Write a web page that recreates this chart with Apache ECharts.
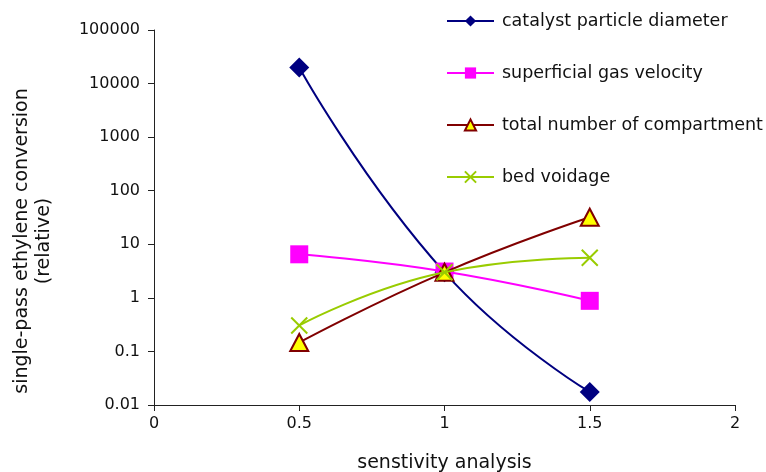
<!DOCTYPE html>
<html>
<head>
<meta charset="utf-8">
<script src="https://cdn.jsdelivr.net/npm/echarts@6/dist/echarts.min.js"></script>
<style>html,body{margin:0;padding:0;background:#fff;}#c{width:766px;height:472px;}</style>
</head>
<body>
<div id="c"></div>
<script>
var xValues = [0.5, 1, 1.5];
var catalystDiameter = [20000, 3.0, 0.0175];
var gasVelocity = [6.5, 3.1, 0.88];
var compartments = [0.147, 3.0, 32];
var bedVoidage = [0.305, 3.0, 5.6];
var seriesNames = ['catalyst particle diameter', 'superficial gas velocity', 'total number of compartment', 'bed voidage'];
var xTicks = [0, 0.5, 1, 1.5, 2];
var yTicks = [0.01, 0.1, 1, 10, 100, 1000, 10000, 100000];

function pairs(ys) { return xValues.map(function (x, i) { return [x, ys[i]]; }); }

var FONT = 'DejaVu Sans';
var chart = echarts.init(document.getElementById('c'), null, {renderer: 'canvas'});
chart.setOption({
  animation: false,
  backgroundColor: '#ffffff',
  textStyle: {fontFamily: FONT},
  grid: {left: 154, right: 31, top: 30, bottom: 67, containLabel: false, outerBoundsMode: 'none'},
  legend: {
    orient: 'vertical', left: 446, top: 12, padding: 0,
    itemWidth: 47, itemHeight: 14, itemGap: 34,
    textStyle: {fontFamily: FONT, fontSize: 17.5, lineHeight: 14, color: '#111', padding: [0, 0, 0, 3]},
    data: seriesNames
  },
  xAxis: {
    type: 'value', min: xTicks[0], max: xTicks[xTicks.length - 1], interval: 0.5,
    name: 'senstivity analysis', nameLocation: 'middle', nameGap: 49,
    nameTextStyle: {fontFamily: FONT, fontSize: 19, color: '#111'},
    axisLine: {lineStyle: {color: '#222', width: 1}},
    axisTick: {show: true, length: 6, lineStyle: {color: '#222'}},
    axisLabel: {fontFamily: FONT, fontSize: 16, color: '#111', margin: 11},
    splitLine: {show: false}
  },
  yAxis: {
    type: 'log', logBase: 10, min: yTicks[0], max: yTicks[yTicks.length - 1],
    axisLine: {show: true, lineStyle: {color: '#222', width: 1}},
    axisTick: {show: true, length: 6, lineStyle: {color: '#222'}},
    axisLabel: {fontFamily: FONT, fontSize: 16, color: '#111', margin: 14,
      formatter: function (v) { return String(Number(v.toPrecision(6))); }},
    splitLine: {show: false}
  },
  graphic: [{
    type: 'text', x: 33, y: 241, rotation: Math.PI / 2, originX: 0, originY: 0,
    style: {text: 'single-pass ethylene conversion\n(relative)', fontFamily: FONT, fontSize: 19,
      fill: '#111', align: 'center', verticalAlign: 'middle', lineHeight: 22}
  }],
  series: [
    {name: seriesNames[0], type: 'line', smooth: 0.5, data: pairs(catalystDiameter),
      symbol: 'diamond', symbolSize: 20, itemStyle: {color: '#000080'},
      lineStyle: {color: '#000080', width: 2}, z: 2},
    {name: seriesNames[1], type: 'line', smooth: 0.5, data: pairs(gasVelocity),
      symbol: 'rect', symbolSize: 18, itemStyle: {color: '#ff00ff'},
      lineStyle: {color: '#ff00ff', width: 2}, z: 3},
    {name: seriesNames[2], type: 'line', smooth: 0.5, data: pairs(compartments),
      symbol: 'triangle', symbolSize: [18, 17], itemStyle: {color: '#ffff00', borderColor: '#800000', borderWidth: 2},
      lineStyle: {color: '#800000', width: 2}, z: 4},
    {name: seriesNames[3], type: 'line', smooth: 0.5, data: pairs(bedVoidage),
      symbol: 'path://M0,0L10,10M10,0L0,10', symbolSize: 16,
      itemStyle: {color: '#99cc00', borderColor: '#99cc00', borderWidth: 2},
      lineStyle: {color: '#99cc00', width: 2}, z: 5}
  ]
});
</script>
</body>
</html>
